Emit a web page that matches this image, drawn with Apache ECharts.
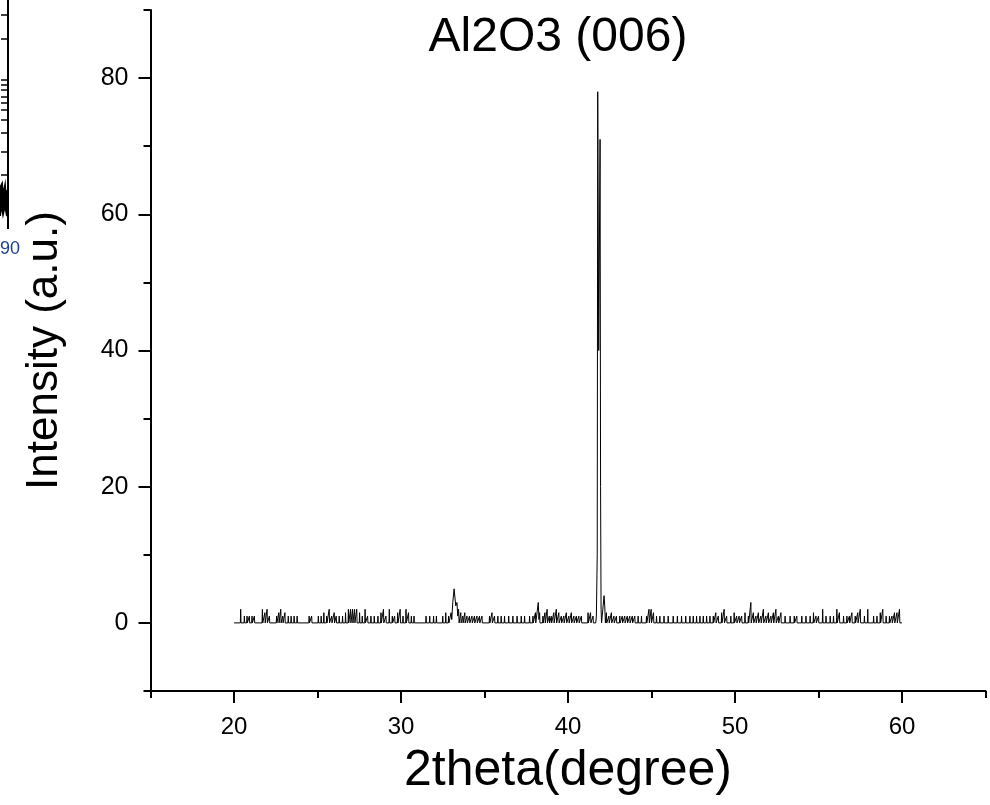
<!DOCTYPE html>
<html>
<head>
<meta charset="utf-8">
<script src="https://cdn.jsdelivr.net/npm/echarts@6/dist/echarts.min.js"></script>
<style>html,body{margin:0;padding:0;background:#fff}#c{width:990px;height:805px}</style>
</head>
<body>
<div id="c"></div>
<script>
// Chart text
const chartTitle = 'Al2O3 (006)';
const xName = '2theta(degree)';
const yName = 'Intensity (a.u.)';

// Axis ticks
const xMajorTicks = [20, 30, 40, 50, 60];
const xMinorTicks = [15, 25, 35, 45, 55, 65];
const yMajorTicks = [0, 20, 40, 60, 80];
const yMinorTicks = [-10, 10, 30, 50, 70, 90];

// XRD scan vertices [2theta, intensity]
const scan20to31 = [
 [20.00,0],[20.38,0],[20.40,2],[20.42,0],[20.60,0],[20.62,1],[20.64,0],[20.76,0],[20.78,1],[20.80,0],
 [20.90,0],[20.92,1],[20.94,0],[21.06,0],[21.08,1],[21.10,0],[21.20,0],[21.22,1],[21.24,0],
 [21.68,0],[21.70,2],[21.72,0],[21.83,0],[21.85,1.5],[21.87,0],[21.96,0],[21.98,2],[22.00,0],
 [22.10,0],[22.12,1],[22.14,0],[22.53,0],[22.55,1],[22.57,0],[22.66,0],[22.68,1.5],[22.70,0],
 [22.78,0],[22.80,2],[22.82,0],[22.90,0],[22.92,1],[22.94,0],[23.03,0],[23.05,1.5],[23.07,0],
 [23.23,0],[23.25,1],[23.27,0],[23.40,0],[23.42,1],[23.44,0],[23.58,0],[23.60,1],[23.62,0],
 [23.76,0],[23.78,1],[23.80,0],[24.48,0],[24.50,1],[24.52,0],[24.63,0],[24.65,1],[24.67,0],
 [25.03,0],[25.05,1],[25.07,0],[25.20,0],[25.22,1],[25.24,0],[25.36,0],[25.38,1.5],[25.40,0],
 [25.53,0],[25.55,1],[25.57,0],[25.68,0],[25.70,2],[25.72,0],[25.83,0],[25.85,1],[25.87,0],
 [25.98,0],[26.00,1.5],[26.02,0],[26.10,0],[26.12,1],[26.14,0],[26.28,0],[26.30,1],[26.32,0],
 [26.48,0],[26.50,1],[26.52,0],[26.66,0],[26.68,1.5],[26.70,0],[26.83,0],[26.85,2],[26.87,0],
 [26.96,0],[26.98,2],[27.00,0],[27.08,0],[27.10,2],[27.12,0],[27.20,0],[27.22,2],[27.24,0],
 [27.33,0],[27.35,2],[27.37,0],[27.50,0],[27.52,1.5],[27.54,0],[27.66,0],[27.68,1],[27.70,0],
 [27.83,0],[27.85,2],[27.87,0],[27.98,0],[28.00,1],[28.02,0],[28.18,0],[28.20,1],[28.22,0],
 [28.38,0],[28.40,1],[28.42,0],[28.60,0],[28.62,1],[28.64,0],[28.78,0],[28.80,1.5],[28.82,0],
 [28.93,0],[28.95,2],[28.97,0],[29.08,0],[29.10,1],[29.12,0],[29.28,0],[29.30,2],[29.32,0],
 [29.46,0],[29.48,1],[29.50,0],[29.60,0],[29.62,1],[29.64,0],[29.78,0],[29.80,1.5],[29.82,0],
 [29.93,0],[29.95,2],[29.97,0],[30.10,0],[30.12,1],[30.14,0],[30.28,0],[30.30,2],[30.32,0],
 [30.43,0],[30.45,1.5],[30.47,0],[30.60,0],[30.62,1],[30.64,0],[30.76,0],[30.78,1],[30.80,0]
];
const scan31to41 = [
 [31.48,0],[31.50,1],[31.52,0],[31.70,0],[31.72,1],[31.74,0],[31.93,0],[31.95,1],[31.97,0],
 [32.10,0],[32.12,1],[32.14,0],[32.48,0],[32.50,1],[32.52,0],[32.66,0],[32.68,1.5],[32.70,0],
 [32.83,0],[32.85,1],[32.87,0],[32.98,0],[33.00,1.5],[33.04,0.5],[33.10,3],[33.18,5],[33.24,3.5],
 [33.28,2.5],[33.35,3],[33.40,1],[33.45,2],[33.48,0],[33.56,0],[33.58,1.5],[33.60,0],
 [33.68,0],[33.70,1],[33.72,0],[33.80,0],[33.82,1.5],[33.84,0],[33.93,0],[33.95,1],[33.97,0],
 [34.08,0],[34.10,1],[34.12,0],[34.23,0],[34.25,1],[34.27,0],[34.38,0],[34.40,1],[34.42,0],
 [34.53,0],[34.55,1],[34.57,0],[34.68,0],[34.70,1],[34.72,0],[34.83,0],[34.85,1],[34.87,0],
 [35.28,0],[35.30,1],[35.32,0],[35.43,0],[35.45,1.5],[35.47,0],[35.58,0],[35.60,1],[35.62,0],
 [35.78,0],[35.80,1],[35.82,0],[35.98,0],[36.00,1],[36.02,0],[36.18,0],[36.20,1],[36.22,0],
 [36.43,0],[36.45,1],[36.47,0],[36.68,0],[36.70,1],[36.72,0],[36.93,0],[36.95,1],[36.97,0],
 [37.18,0],[37.20,1],[37.22,0],[37.38,0],[37.40,1],[37.42,0],[37.68,0],[37.70,1],[37.72,0],
 [37.88,0],[37.90,1],[37.92,0],[38.03,0],[38.05,1.5],[38.07,0],[38.18,0],[38.22,3],[38.26,0.5],
 [38.30,1.5],[38.32,0],[38.48,0],[38.50,1],[38.52,0],[38.60,0],[38.62,1.5],[38.64,0],
 [38.73,0],[38.75,2],[38.77,0],[38.86,0],[38.88,1],[38.90,0],[38.98,0],[39.00,1],[39.02,0],
 [39.13,0],[39.15,1.5],[39.17,0],[39.28,0],[39.30,2],[39.32,0],[39.43,0],[39.45,1.5],[39.47,0],
 [39.58,0],[39.60,1],[39.62,0],[39.73,0],[39.75,1],[39.77,0],[39.88,0],[39.90,1.5],[39.92,0],
 [40.03,0],[40.05,1],[40.07,0],[40.18,0],[40.20,1.5],[40.22,0],[40.33,0],[40.35,1],[40.37,0],
 [40.48,0],[40.50,1],[40.52,0],[40.63,0],[40.65,1],[40.67,0],[40.78,0],[40.80,1],[40.82,0],
 [41.18,0],[41.20,1.5],[41.22,0],[41.33,0],[41.35,1.5],[41.37,0],[41.48,0],[41.50,1],[41.52,0]
];
const peak006 = [
 [41.66,0],[41.70,1],[41.75,10],[41.78,78],[41.84,40],[41.92,71],[41.95,20],[41.98,2],[42.01,0],
 [42.10,0],[42.16,4],[42.20,2.5],[42.24,0]
];
const scan42to60 = [
 [42.28,0],[42.30,1.5],[42.32,0],[42.43,0],[42.45,1],[42.47,0],[42.58,0],[42.60,1.5],[42.62,0],
 [42.73,0],[42.75,1],[42.77,0],[42.88,0],[42.90,1],[42.92,0],[43.08,0],[43.10,1],[43.12,0],
 [43.23,0],[43.25,1],[43.27,0],[43.38,0],[43.40,1],[43.42,0],[43.53,0],[43.55,1],[43.57,0],
 [43.68,0],[43.70,1],[43.72,0],[43.83,0],[43.85,1],[43.87,0],[43.98,0],[44.00,1],[44.02,0],
 [44.18,0],[44.20,1],[44.22,0],[44.38,0],[44.40,1],[44.42,0],[44.68,0],[44.70,1],[44.72,0],
 [44.83,0],[44.85,2],[44.87,0],[44.96,0],[44.98,2],[45.00,0],[45.10,0],[45.12,1.5],[45.14,0],
 [45.28,0],[45.30,1],[45.32,0],[45.48,0],[45.50,1],[45.52,0],[45.73,0],[45.75,1],[45.77,0],
 [45.98,0],[46.00,1],[46.02,0],[46.28,0],[46.30,1],[46.32,0],[46.53,0],[46.55,1],[46.57,0],
 [46.78,0],[46.80,1],[46.82,0],[47.03,0],[47.05,1],[47.07,0],[47.28,0],[47.30,1],[47.32,0],
 [47.48,0],[47.50,1],[47.52,0],[47.68,0],[47.70,1],[47.72,0],[47.88,0],[47.90,1],[47.92,0],
 [48.08,0],[48.10,1],[48.12,0],[48.28,0],[48.30,1],[48.32,0],[48.48,0],[48.50,1],[48.52,0],
 [48.68,0],[48.70,1],[48.72,0],[48.83,0],[48.85,1.5],[48.87,0],[48.98,0],[49.00,1],[49.02,0],
 [49.18,0],[49.20,1.5],[49.22,0],[49.33,0],[49.35,2],[49.37,0],[49.48,0],[49.50,1],[49.52,0],
 [49.73,0],[49.75,1],[49.77,0],[49.93,0],[49.95,1.5],[49.97,0],[50.08,0],[50.10,1],[50.12,0],
 [50.23,0],[50.25,1],[50.27,0],[50.38,0],[50.40,1],[50.42,0],[50.58,0],[50.60,1.5],[50.62,0],
 [50.78,0],[50.80,1],[50.82,0],[50.93,0],[50.95,3],[50.97,0],[51.08,0],[51.10,1.5],[51.12,0],
 [51.23,0],[51.25,1],[51.27,0],[51.38,0],[51.40,1.5],[51.42,0],[51.53,0],[51.55,1],[51.57,0],
 [51.68,0],[51.70,2],[51.72,0],[51.83,0],[51.85,1],[51.87,0],[51.98,0],[52.00,1.5],[52.02,0],
 [52.13,0],[52.15,1],[52.17,0],[52.28,0],[52.30,1.5],[52.32,0],[52.43,0],[52.45,2],[52.47,0],
 [52.58,0],[52.60,1],[52.62,0],[52.73,0],[52.75,1.5],[52.77,0],[52.98,0],[53.00,1],[53.02,0],
 [53.28,0],[53.30,1],[53.32,0],[53.53,0],[53.55,1],[53.57,0],[53.68,0],[53.70,1],[53.72,0],
 [53.98,0],[54.00,1],[54.02,0],[54.23,0],[54.25,1],[54.27,0],[54.48,0],[54.50,1],[54.52,0],
 [54.68,0],[54.70,1.5],[54.72,0],[54.83,0],[54.85,1],[54.87,0],[54.98,0],[55.00,1],[55.02,0],
 [55.23,0],[55.25,2],[55.27,0],[55.43,0],[55.45,1],[55.47,0],[55.68,0],[55.70,1],[55.72,0],
 [55.88,0],[55.90,1],[55.92,0],[56.08,0],[56.10,2],[56.12,0],[56.23,0],[56.25,1.5],[56.27,0],
 [56.48,0],[56.50,1],[56.52,0],[56.68,0],[56.70,1],[56.72,0],[56.83,0],[56.85,1],[56.87,0],
 [56.98,0],[57.00,1.5],[57.02,0],[57.18,0],[57.20,1],[57.22,0],[57.33,0],[57.35,1.5],[57.37,0],
 [57.48,0],[57.50,2],[57.52,0],[57.73,0],[57.75,1],[57.77,0],[57.93,0],[57.95,2],[57.97,0],
 [58.28,0],[58.30,1],[58.32,0],[58.48,0],[58.50,1],[58.52,0],[58.68,0],[58.70,1.5],[58.72,0],
 [58.83,0],[58.85,2],[58.87,0],[59.03,0],[59.05,1],[59.07,0],[59.23,0],[59.25,1],[59.27,0],
 [59.38,0],[59.40,1],[59.42,0],[59.53,0],[59.55,1.5],[59.57,0],[59.68,0],[59.70,1.5],[59.72,0],
 [59.83,0],[59.85,2],[59.87,0],[60.00,0]
];

const FONT = '"Liberation Sans", Arial, sans-serif';
const scanData = [].concat(scan20to31, scan31to41, peak006, scan42to60);

const chart = echarts.init(document.getElementById('c'), null, {renderer: 'canvas'});

const axisBase = {
  type: 'value',
  splitLine: {show: false}
};

// decoration: cropped neighbouring panel at the far left edge
const fragTicks = [15, 39, 80, 85, 90, 97, 103, 110, 120, 133, 152, 175].map(function (yy) {
  return {type: 'line', shape: {x1: 1, y1: yy, x2: 8, y2: yy}, style: {stroke: '#000', lineWidth: 1.5}, silent: true};
});

chart.setOption({
  animation: false,
  backgroundColor: '#fff',
  grid: {left: 150.5, right: 4.5, top: 10, bottom: 114, containLabel: false},
  xAxis: [
    Object.assign({}, axisBase, {
      min: 15, max: 65, position: 'bottom',
      axisLine: {show: true, onZero: false, lineStyle: {color: '#000', width: 2}},
      axisTick: {show: true, inside: false, length: 12, customValues: xMajorTicks, lineStyle: {color: '#000', width: 2}},
      axisLabel: {show: true, customValues: xMajorTicks, margin: 24, color: '#000', fontSize: 24, fontFamily: FONT},
      name: xName, nameLocation: 'middle', nameGap: 55,
      nameTextStyle: {color: '#000', fontSize: 50, fontFamily: FONT}
    }),
    Object.assign({}, axisBase, {
      min: 15, max: 65, position: 'bottom',
      axisLine: {show: false, onZero: false},
      axisTick: {show: true, inside: false, length: 7, customValues: xMinorTicks, lineStyle: {color: '#000', width: 2}},
      axisLabel: {show: false}
    })
  ],
  yAxis: [
    Object.assign({}, axisBase, {
      min: -10, max: 90, position: 'left',
      axisLine: {show: true, onZero: false, lineStyle: {color: '#000', width: 2}},
      axisTick: {show: true, inside: false, length: 12, customValues: yMajorTicks, lineStyle: {color: '#000', width: 2}},
      axisLabel: {show: true, customValues: yMajorTicks, margin: 22, color: '#000', fontSize: 25, fontFamily: FONT},
      name: yName, nameLocation: 'middle', nameGap: 84,
      nameTextStyle: {color: '#000', fontSize: 44, fontFamily: FONT}
    }),
    Object.assign({}, axisBase, {
      min: -10, max: 90, position: 'left',
      axisLine: {show: false, onZero: false},
      axisTick: {show: true, inside: false, length: 7, customValues: yMinorTicks, lineStyle: {color: '#000', width: 2}},
      axisLabel: {show: false}
    })
  ],
  graphic: [
    {type: 'text', x: 558, y: 38, style: {text: chartTitle, x: 0, y: 0, fill: '#000', font: '48px ' + FONT, textAlign: 'center', textVerticalAlign: 'middle'}, silent: true},
    {type: 'line', shape: {x1: 8, y1: 0, x2: 8, y2: 229}, style: {stroke: '#000', lineWidth: 2}, silent: true},
    {type: 'polyline', shape: {points: [[0,188],[2,184],[3,196],[5,186],[6,200],[7,190],[7,216],[5,205],[3,214],[1,203],[0,216]]}, style: {stroke: '#000', fill: '#000', lineWidth: 2}, silent: true},
    {type: 'text', x: 20, y: 249, style: {text: '90', fill: '#1f3f8f', font: '18px ' + FONT, textAlign: 'right', textVerticalAlign: 'middle'}, silent: true}
  ].concat(fragTicks),
  series: [{
    type: 'line',
    xAxisIndex: 0, yAxisIndex: 0,
    data: scanData,
    showSymbol: false,
    symbol: 'none',
    lineStyle: {color: '#000', width: 1},
    clip: false
  }]
});
</script>
</body>
</html>
